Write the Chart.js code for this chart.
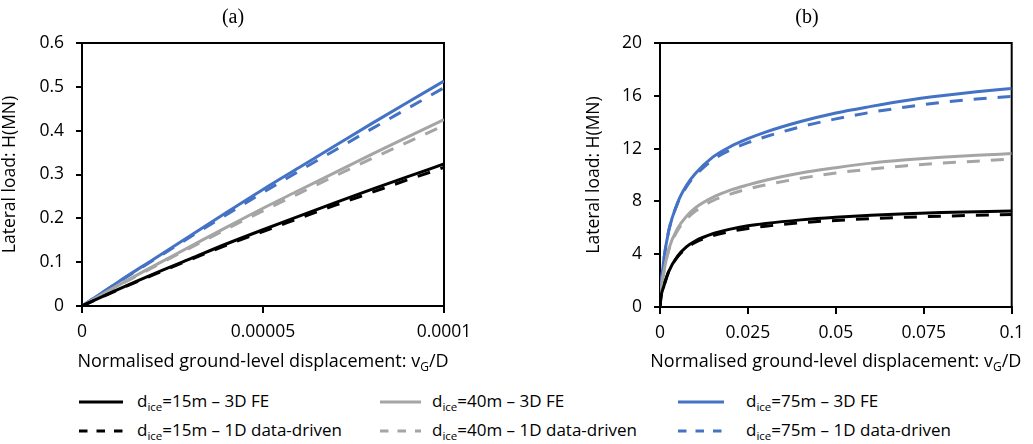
<!DOCTYPE html>
<html lang="en">
<head>
<meta charset="UTF-8">
<title>Lateral load vs normalised displacement</title>
<script src="https://cdn.jsdelivr.net/npm/chart.js@4.4.0/dist/chart.umd.min.js"></script>
<style>
    body { margin: 0; background: #fff; font-family: "Open Sans", sans-serif; }
    #wrap { position: relative; width: 1033px; height: 444px; overflow: hidden; }
    #wrapA { position: absolute; left: 0; top: 0; }
    #wrapB { position: absolute; left: 520px; top: 0; }
    .leg { position: absolute; font-size: 17px; color: #000; white-space: nowrap; line-height: 20px; }
    .leg sub { font-size: 11.5px; vertical-align: -4px; line-height: 0; }
    .sw { position: absolute; }
</style>
</head>
<body>
<div id="wrap">
    <div id="wrapA"><canvas id="chartA" width="520" height="380"></canvas></div>
    <div id="wrapB"><canvas id="chartB" width="513" height="380"></canvas></div>
    <div id="legend"></div>
</div>
<script>
// ---- data ----
const xA = [0, 0.00001, 0.00002, 0.00003, 0.00004, 0.00005, 0.00006, 0.00007, 0.00008, 0.00009, 0.0001];
const a15FE = [0, 0.038, 0.074, 0.108, 0.142, 0.174, 0.205, 0.236, 0.266, 0.295, 0.324];
const a15DD = [0, 0.037, 0.072, 0.106, 0.139, 0.170, 0.200, 0.230, 0.259, 0.288, 0.316];
const a40FE = [0, 0.047, 0.092, 0.136, 0.180, 0.223, 0.264, 0.305, 0.346, 0.386, 0.425];
const a40DD = [0, 0.046, 0.090, 0.133, 0.176, 0.217, 0.257, 0.297, 0.336, 0.374, 0.412];
const a75FE = [0, 0.055, 0.108, 0.161, 0.214, 0.266, 0.316, 0.366, 0.416, 0.465, 0.513];
const a75DD = [0, 0.054, 0.106, 0.158, 0.209, 0.259, 0.308, 0.356, 0.404, 0.451, 0.498];

const xB = [0, 0.0003, 0.001, 0.0025, 0.005, 0.0075, 0.01, 0.015, 0.02, 0.025, 0.03, 0.04, 0.05, 0.06, 0.07, 0.08, 0.09, 0.1];
const b15FE = [0, 0.8, 1.5, 2.7, 3.85, 4.55, 5.0, 5.55, 5.9, 6.15, 6.33, 6.6, 6.8, 6.95, 7.06, 7.15, 7.22, 7.27];
const b15DD = [0, 0.8, 1.5, 2.7, 3.8, 4.45, 4.9, 5.4, 5.72, 5.95, 6.12, 6.38, 6.56, 6.7, 6.8, 6.88, 6.95, 7.0];
const b40FE = [0, 1.2, 2.5, 4.4, 5.95, 6.85, 7.5, 8.3, 8.85, 9.25, 9.6, 10.15, 10.55, 10.9, 11.15, 11.35, 11.5, 11.62];
const b40DD = [0, 1.2, 2.5, 4.3, 5.8, 6.65, 7.25, 8.05, 8.55, 8.95, 9.25, 9.75, 10.15, 10.45, 10.7, 10.9, 11.05, 11.2];
const b75FE = [0, 1.5, 3.4, 5.8, 7.9, 9.2, 10.1, 11.35, 12.15, 12.75, 13.25, 14.05, 14.7, 15.2, 15.65, 16.0, 16.3, 16.55];
const b75DD = [0, 1.5, 3.4, 5.8, 7.85, 9.1, 9.95, 11.15, 11.9, 12.45, 12.9, 13.65, 14.25, 14.75, 15.15, 15.5, 15.75, 15.95];

const xTicksA = ['0', '0.00005', '0.0001'];
const yTicksA = ['0', '0.1', '0.2', '0.3', '0.4', '0.5', '0.6'];
const xTicksB = ['0', '0.025', '0.05', '0.075', '0.1'];
const yTicksB = ['0', '4', '8', '12', '16', '20'];

const seriesNames = ['15m', '40m', '75m'];
const colors = ['#000000', '#a5a5a5', '#4472c4'];
const dash = [13, 11];
const FONT = '"Open Sans", sans-serif';

function pts(xs, ys) { return xs.map((x, i) => ({x: x, y: ys[i]})); }

function makeSets(xs, groups) {
    const out = [];
    groups.forEach((g, i) => {
        out.push({ label: seriesNames[i] + ' FE', data: pts(xs, g[0]), borderColor: colors[i], borderWidth: 3, pointRadius: 0, cubicInterpolationMode: 'monotone', fill: false });
        out.push({ label: seriesNames[i] + ' DD', data: pts(xs, g[1]), borderColor: colors[i], borderWidth: 3, borderDash: dash, pointRadius: 0, cubicInterpolationMode: 'monotone', fill: false });
    });
    return out;
}

// frame, panel title and x title with subscript
const extras = {
    id: 'extras',
    beforeDatasetsDraw(chart, args, opts) {
        const a = chart.chartArea, ctx = chart.ctx;
        ctx.save();
        ctx.strokeStyle = '#000';
        ctx.lineWidth = 2;
        ctx.beginPath();
        ctx.moveTo(a.left, a.top); ctx.lineTo(a.right, a.top); ctx.lineTo(a.right, a.bottom);
        ctx.stroke();
        ctx.restore();
    },
    afterDraw(chart, args, opts) {
        const a = chart.chartArea, ctx = chart.ctx;
        ctx.save();
        ctx.fillStyle = '#000';
        ctx.textBaseline = 'middle';
        ctx.font = '20px "Liberation Serif", serif';
        ctx.textAlign = 'center';
        ctx.fillText(opts.panel, opts.panelX, 18);
        // x axis title: Normalised ground-level displacement: vG/D
        const big = '18px ' + FONT, small = '12px ' + FONT;
        const p1 = 'Normalised ground-level displacement: v', p2 = 'G', p3 = '/D';
        ctx.font = big; const w1 = ctx.measureText(p1).width, w3 = ctx.measureText(p3).width;
        ctx.font = small; const w2 = ctx.measureText(p2).width;
        let x = (a.left + a.right) / 2 - (w1 + w2 + w3) / 2;
        const y = 362;
        ctx.textAlign = 'left';
        ctx.font = big; ctx.fillText(p1, x, y); x += w1;
        ctx.font = small; ctx.fillText(p2, x, y + 6); x += w2;
        ctx.font = big; ctx.fillText(p3, x, y);
        ctx.restore();
    }
};

function makeChart(id, xs, groups, cfg) {
    return new Chart(document.getElementById(id), {
        type: 'line',
        data: { datasets: makeSets(xs, groups) },
        plugins: [extras],
        options: {
            responsive: false,
            animation: false,
            layout: { padding: { left: cfg.padLeft, top: 43, right: cfg.padRight, bottom: 0 } },
            plugins: {
                legend: { display: false },
                tooltip: { enabled: false },
                extras: { panel: cfg.panel, panelX: cfg.panelX }
            },
            scales: {
                x: {
                    type: 'linear', min: 0, max: cfg.xMax,
                    ticks: { stepSize: cfg.xStep, color: '#000', font: { family: FONT, size: 17.5 }, padding: 9, maxRotation: 0,
                        callback: (v, i) => cfg.xLabels[i] },
                    grid: { drawOnChartArea: false, drawTicks: true, tickLength: 7, color: '#000', lineWidth: 2 },
                    border: { display: true, color: '#000', width: 2 },
                    afterFit: (s) => { s.height = 380 - cfg.bottom; }
                },
                y: {
                    min: 0, max: cfg.yMax,
                    ticks: { stepSize: cfg.yStep, color: '#000', font: { family: FONT, size: 17.5 }, padding: 12,
                        callback: (v, i) => cfg.yLabels[i] },
                    grid: { drawOnChartArea: false, drawTicks: true, tickLength: 6, color: '#000', lineWidth: 2 },
                    border: { display: true, color: '#000', width: 2 },
                    title: { display: true, text: 'Lateral load: H(MN)', color: '#000', font: { family: FONT, size: 17.5 }, padding: 0 },
                    afterFit: (s) => { s.width = cfg.yWidth; }
                }
            }
        }
    });
}

makeChart('chartA', xA, [[a15FE, a15DD], [a40FE, a40DD], [a75FE, a75DD]], {
    padLeft: 0, padRight: 76, yWidth: 82, bottom: 306,
    xMax: 0.0001, xStep: 0.00005, yMax: 0.6, yStep: 0.1,
    xLabels: xTicksA, yLabels: yTicksA, panel: '(a)', panelX: 233
});
makeChart('chartB', xB, [[b15FE, b15DD], [b40FE, b40DD], [b75FE, b75DD]], {
    padLeft: 64, padRight: 17, yWidth: 76, bottom: 307,
    xMax: 0.1, xStep: 0.025, yMax: 20, yStep: 4,
    xLabels: xTicksB, yLabels: yTicksB, panel: '(b)', panelX: 287
});

// legend below the panels (3 columns x 2 rows)
const legCols = [ {lx: 79, lw: 44, tx: 137}, {lx: 380, lw: 41, tx: 432}, {lx: 678, lw: 46, tx: 746} ];
const legRows = [ {y: 402, kind: '3D FE', dashed: false}, {y: 431, kind: '1D data-driven', dashed: true} ];
const legend = document.getElementById('legend');
legRows.forEach((r) => {
    legCols.forEach((c, i) => {
        const sw = document.createElementNS('http://www.w3.org/2000/svg', 'svg');
        sw.setAttribute('class', 'sw');
        sw.setAttribute('width', c.lw); sw.setAttribute('height', 6);
        sw.style.left = c.lx + 'px'; sw.style.top = (r.y - 3) + 'px';
        const ln = document.createElementNS('http://www.w3.org/2000/svg', 'line');
        ln.setAttribute('x1', 0); ln.setAttribute('x2', c.lw); ln.setAttribute('y1', 3); ln.setAttribute('y2', 3);
        ln.setAttribute('stroke', colors[i]); ln.setAttribute('stroke-width', 3);
        if (r.dashed) ln.setAttribute('stroke-dasharray', '8.5 9');
        sw.appendChild(ln);
        legend.appendChild(sw);
        const t = document.createElement('div');
        t.className = 'leg';
        t.style.left = c.tx + 'px'; t.style.top = (r.y - 11) + 'px';
        t.innerHTML = 'd<sub>ice</sub>=' + seriesNames[i] + ' \u2013 ' + r.kind;
        legend.appendChild(t);
    });
});
</script>
</body>
</html>
